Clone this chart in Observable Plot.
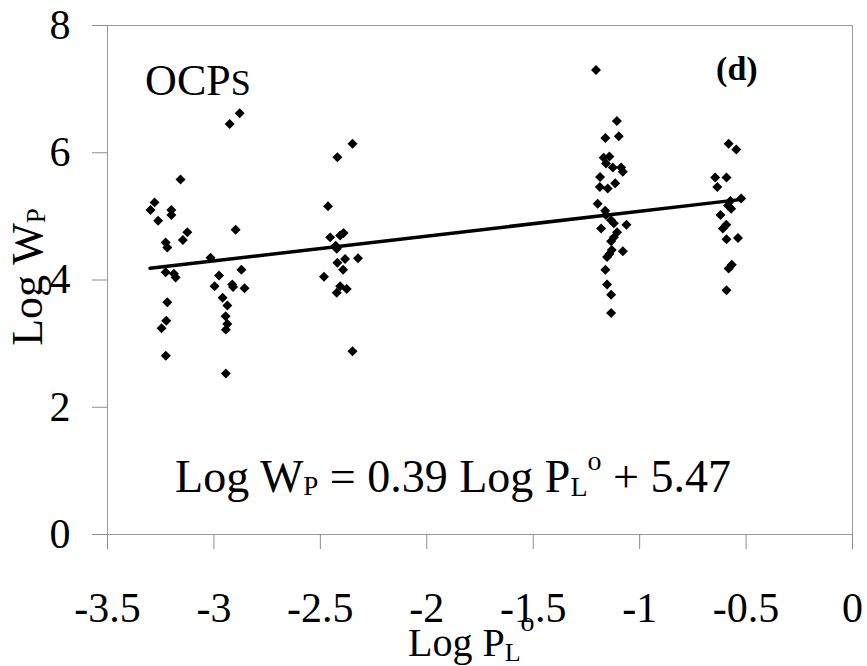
<!DOCTYPE html>
<html><head><meta charset="utf-8">
<script src="https://cdn.jsdelivr.net/npm/d3@7"></script>
<script src="https://cdn.jsdelivr.net/npm/@observablehq/plot@0.6"></script>
<style>
body{margin:0;background:#fff;}
#chart svg{display:block;}
#chart text{white-space:pre;}
</style>
</head><body><div id="chart"></div>
<script>
// Tick values
const xTicks = [-3.5, -3, -2.5, -2, -1.5, -1, -0.5, 0];
const yTicks = [0, 2, 4, 6, 8];

// Data: Log PL° (x) and Log WP (y)
const logPL = [
  -3.279,-3.298,-3.200,-3.200,-3.262,-3.157,-3.125,-3.146,-3.227,-3.219,-3.227,-3.188,-3.180,-3.219,-3.224,-3.246,-3.226,
  -2.926,-2.879,-2.898,-3.016,-2.871,-2.976,-2.997,-2.914,-2.910,-2.856,-2.959,-2.937,-2.945,-2.937,-2.944,-2.944,
  -2.349,-2.420,-2.464,-2.454,-2.407,-2.391,-2.428,-2.423,-2.420,-2.384,-2.323,-2.393,-2.483,-2.407,-2.376,-2.423,-2.349,
  -1.205,-1.107,-1.161,-1.098,-1.169,-1.142,-1.158,-1.126,-1.087,-1.079,-1.186,-1.115,-1.187,-1.150,-1.197,-1.162,
  -1.158,-1.134,-1.121,-1.062,-1.181,-1.106,-1.121,-1.134,-1.079,-1.131,-1.142,-1.153,-1.161,-1.153,-1.134,-1.134,
  -0.582,-0.546,-0.645,-0.592,-0.635,-0.523,-0.574,-0.585,-0.570,-0.620,-0.593,-0.609,-0.592,-0.538,-0.567,-0.582,-0.592
];
const logWP = [
  5.22,5.10,5.10,5.02,4.93,5.58,4.75,4.63,4.59,4.51,4.12,4.10,4.04,3.65,3.36,3.24,2.81,
  6.45,6.62,4.79,4.35,4.16,4.07,3.90,3.93,3.89,3.87,3.72,3.60,3.43,3.31,3.22,2.53,
  6.14,5.93,5.16,4.67,4.70,4.74,4.54,4.49,4.27,4.33,4.34,4.16,4.05,3.90,3.86,3.80,2.88,
  7.30,6.50,6.23,6.26,5.92,5.94,5.83,5.77,5.77,5.70,5.62,5.52,5.46,5.44,5.20,5.09,
  5.02,4.94,4.89,4.87,4.81,4.75,4.67,4.61,4.45,4.47,4.41,4.36,4.16,3.93,3.77,3.48,
  6.14,6.05,5.61,5.61,5.46,5.28,5.24,5.17,5.12,5.02,4.87,4.81,4.64,4.66,4.24,4.18,3.84
];

// Regression: Log WP = 0.39 Log PL° + 5.47
const slope = 0.39;
const intercept = 5.47;
const fitRange = [-3.3, -0.52];

const points = logPL.map((x, i) => ({x, y: logWP[i]}));
const fit = fitRange.map(x => ({x, y: slope * x + intercept}));

const serif = '"Liberation Serif","Times New Roman",Times,serif';

const chart = Plot.plot({
  width: 867, height: 666,
  marginLeft: 107, marginRight: 15, marginTop: 25, marginBottom: 132,
  style: {fontFamily: serif, background: "#fff", color: "#000", overflow: "visible"},
  x: {domain: [-3.5, 0]},
  y: {domain: [0, 8]},
  marks: [
    Plot.frame({stroke: "#9a9a9a"}),
    Plot.axisX({ticks: xTicks, tickSize: 15, tickPadding: 43, fontSize: 42, tickFormat: d => String(d), label: null, stroke: "#8c8c8c", fill: "#000"}),
    Plot.axisY({ticks: yTicks, tickSize: 15, tickPadding: 22, fontSize: 42, tickFormat: d => String(d), label: null, stroke: "#8c8c8c", fill: "#000"}),
    Plot.line(fit, {x: "x", y: "y", stroke: "#000", strokeWidth: 3.5}),
    Plot.dot(points, {x: "x", y: "y", symbol: "diamond2", r: 4.5, fill: "#000", stroke: "none"})
  ]
});
document.getElementById("chart").appendChild(chart);

const svg = d3.select(chart);
const sx = chart.scale("x"), sy = chart.scale("y");

function richText(x, y, segs, {size, anchor = "start", weight = "normal", rotate = 0}) {
  const t = svg.append("text")
    .attr("transform", `translate(${x},${y})` + (rotate ? ` rotate(${rotate})` : ""))
    .attr("font-family", serif)
    .attr("font-size", size)
    .attr("font-weight", weight)
    .attr("text-anchor", anchor)
    .attr("fill", "#000");
  let shift = 0;
  for (const s of segs) {
    const ts = t.append("tspan").text(s.t);
    if (s.size) ts.attr("font-size", s.size);
    const target = s.dy || 0;
    if (target !== shift) { ts.attr("dy", target - shift); shift = target; }
  }
  return t;
}

// In-plot annotations (data coordinates)
richText(sx.apply(-3.321), sy.apply(6.90), [{t: "OCP"}, {t: "S", size: 36}], {size: 44});
richText(sx.apply(-0.541), sy.apply(7.14), [{t: "(d)"}], {size: 34, anchor: "middle", weight: "bold"});
richText(sx.apply(-3.18), sy.apply(0.66), [
  {t: "Log W"}, {t: "P", size: 27, dy: 3}, {t: " = 0.39 Log P"},
  {t: "L", size: 28, dy: 4}, {t: "o", size: 28, dy: -22}, {t: " + 5.47"}
], {size: 46});

// Axis titles
richText(42, 277, [{t: "Log W"}, {t: "P", size: 27, dy: 3}], {size: 44, anchor: "middle", rotate: -90});
richText(408, 656, [{t: "Log P"}, {t: "L", size: 26, dy: 5}, {t: "o", size: 28, dy: -25}], {size: 40});
</script>
</body></html>
